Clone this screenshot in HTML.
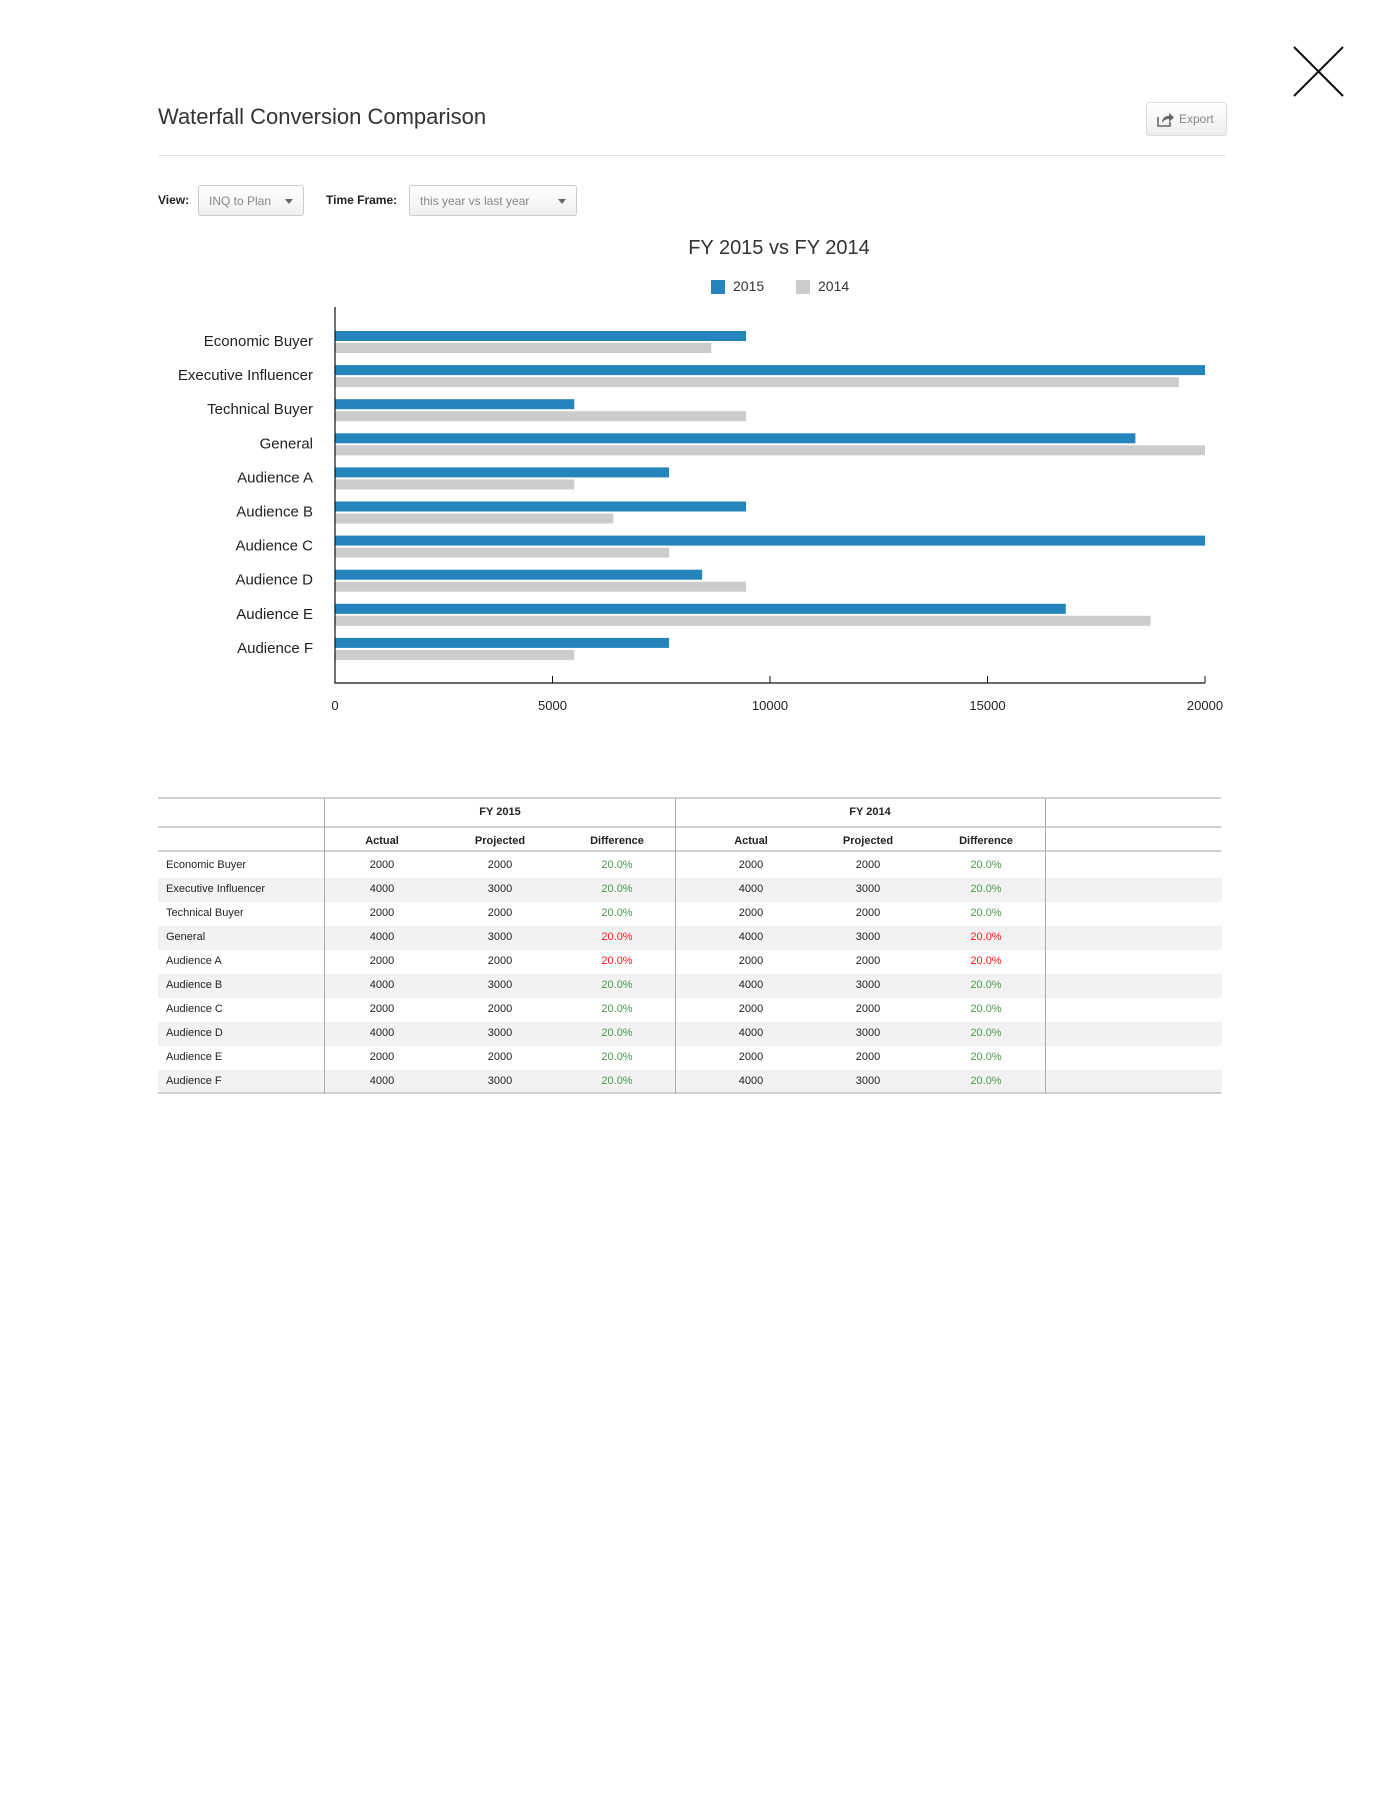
<!DOCTYPE html>
<html><head><meta charset="utf-8">
<style>
body{margin:0;width:1380px;height:1811px;background:#fff;position:relative;font-family:"Liberation Sans",sans-serif;color:#222;overflow:hidden}
.abs{position:absolute}
.dd{position:absolute;border:1px solid #ccc;border-radius:3px;background:linear-gradient(#fff,#f0f0f0);box-sizing:border-box;font-size:12px;color:#888;line-height:30px;padding-left:10px}
.dd .car{position:absolute;right:10px;top:13px;width:0;height:0;border-left:4px solid transparent;border-right:4px solid transparent;border-top:5px solid #666}
.lbl{font-size:12px;font-weight:bold;color:#222}
.cell{position:absolute;transform:translate(-50%,-50%);font-size:11px;white-space:nowrap}
</style></head><body>
<svg class="abs" style="left:1293px;top:46px" width="51" height="51"><line x1="1" y1="1" x2="50" y2="50" stroke="#111" stroke-width="2"/><line x1="50" y1="1" x2="1" y2="50" stroke="#111" stroke-width="2"/></svg>
<div class="abs" style="left:158px;top:104px;font-size:22px;color:#333">Waterfall Conversion Comparison</div>
<div class="abs" style="left:1146px;top:102px;width:81px;height:34px;border:1px solid #ddd;border-radius:3px;background:linear-gradient(#fff,#eee);box-sizing:border-box;font-size:12px;color:#888;line-height:32px;padding-left:32px">Export
<svg class="abs" style="left:10px;top:9px" width="18" height="15"><path d="M1 5 V14 H13 V10" fill="none" stroke="#666" stroke-width="1.6"/><path d="M5 11 C5 6 8 4 12 4 V1 L17 5.5 L12 10 V7 C9 7 7 8 5 11Z" fill="#666"/></svg></div>
<div class="abs" style="left:158px;top:155px;width:1068px;height:1px;background:#e2e2e2"></div>
<div class="abs lbl" style="left:158px;top:193px">View:</div>
<div class="dd" style="left:198px;top:185px;width:106px;height:31px">INQ to Plan<span class="car"></span></div>
<div class="abs lbl" style="left:326px;top:193px">Time Frame:</div>
<div class="dd" style="left:409px;top:185px;width:168px;height:31px">this year vs last year<span class="car"></span></div>

<svg class="abs" id="chart" style="left:0;top:230px" width="1380" height="500"></svg>

<div id="tbl" class="abs" style="left:0;top:0;width:1380px;height:1200px"></div>

<script>
const categories=["Economic Buyer","Executive Influencer","Technical Buyer","General","Audience A","Audience B","Audience C","Audience D","Audience E","Audience F"];
const values2015=[9450,20000,5500,18400,7680,9450,20000,8440,16800,7680];
const values2014=[8650,19400,9450,20000,5500,6400,7680,9450,18750,5500];
const xTicks=[0,5000,10000,15000,20000];
const seriesNames=["2015","2014"];
const actual=[2000,4000,2000,4000,2000,4000,2000,4000,2000,4000];
const projected=[2000,3000,2000,3000,2000,3000,2000,3000,2000,3000];
const diffText=["20.0%","20.0%","20.0%","20.0%","20.0%","20.0%","20.0%","20.0%","20.0%","20.0%"];
const diffNeg=[false,false,false,true,true,false,false,false,false,false];

const NS="http://www.w3.org/2000/svg";
const svg=document.getElementById('chart');
const OY=230;
const X0=335,X1=1205,xMax=20000;
const xs=v=>X0+(v/xMax)*(X1-X0);
const rowY=i=>331+i*34.1-OY;
function mk(tag,attrs,parent){const e=document.createElementNS(NS,tag);for(const k in attrs)e.setAttribute(k,attrs[k]);(parent||svg).appendChild(e);return e;}
let t=mk('text',{x:779,y:254-OY,'text-anchor':'middle','font-size':20,fill:'#333'});t.textContent="FY 2015 vs FY 2014";


const legCol=['#2484bb','#cccccc'],legX=[711,796];
seriesNames.forEach((n,i)=>{
 const r=mk('rect',{x:legX[i],y:280-OY,width:14,height:14,fill:legCol[i]});
 
 
 const tt=mk('text',{x:legX[i]+22,y:291-OY,'font-size':14,fill:'#333'});tt.textContent=n;
 
 
});
categories.forEach((c,i)=>{
 const y=rowY(i);
 const b=mk('rect',{x:X0,y:y,width:xs(values2015[i])-X0,height:10,fill:'#2484bb'});
 
 
 const g=mk('rect',{x:X0,y:y+12,width:xs(values2014[i])-X0,height:10,fill:'#cccccc'});
 
 
 const l=mk('text',{x:313,y:y+15,'text-anchor':'end','font-size':15,fill:'#222'});l.textContent=c;
 
 
});
const ax=mk('path',{d:`M${X0} ${307-OY} V${683-OY} H${X1}`,fill:'none',stroke:'#111','stroke-width':1.2});


xTicks.forEach(v=>{
 mk('line',{x1:xs(v),x2:xs(v),y1:676-OY,y2:683-OY,stroke:'#111'});
 const tl=mk('text',{x:xs(v),y:710-OY,'text-anchor':'middle','font-size':13,fill:'#222'});tl.textContent=v;
 
 
});

// table
const tb=document.getElementById('tbl');
function div(style,text,name){const d=document.createElement('div');d.className='abs';d.style.cssText=style;if(text!==undefined)d.textContent=text;
 
 
 tb.appendChild(d);return d;}
function cell(x,y,text,style,name){const d=div(`left:${x}px;top:${y}px;`+style,text,name);d.className='cell';return d;}
for(let i=0;i<10;i++){ if(i%2==1) div(`left:158px;top:${854+i*24}px;width:1064px;height:24px;background:#f2f2f2`,undefined,'row-stripe'); }
div('left:158px;top:797px;width:1063px;height:2px;background:#d0d0d0',undefined,'table-top-border');
div('left:158px;top:826px;width:1063px;height:2px;background:#d0d0d0',undefined,'header-divider-1');
div('left:158px;top:850px;width:1063px;height:2px;background:#d0d0d0',undefined,'header-divider-2');
div('left:158px;top:1092px;width:1063px;height:2px;background:#d0d0d0',undefined,'table-bottom-border');
[324,675,1045].forEach(x=>div(`left:${x}px;top:798px;width:1px;height:295px;background:#aaa`,undefined,'column-separator'));
cell(500,812,'FY 2015','font-weight:bold','fy2015-header');
cell(870,812,'FY 2014','font-weight:bold','fy2014-header');
const colX=[382,500,617,751,868,986],colH=['Actual','Projected','Difference','Actual','Projected','Difference'];
colX.forEach((x,j)=>cell(x,841,colH[j],'font-weight:bold','column-header'));
categories.forEach((c,i)=>{
 const y=865+i*24;
 cell(166,y,c,'transform:translate(0,-50%)','row-label');
 [0,3].forEach(o=>{
  cell(colX[o],y,actual[i],'','actual-value');
  cell(colX[o+1],y,projected[i],'','projected-value');
  cell(colX[o+2],y,diffText[i],'color:'+(diffNeg[i]?'#ff1a1a':'#4a9a4a'),'difference-value');
 });
});
</script>
</body></html>
